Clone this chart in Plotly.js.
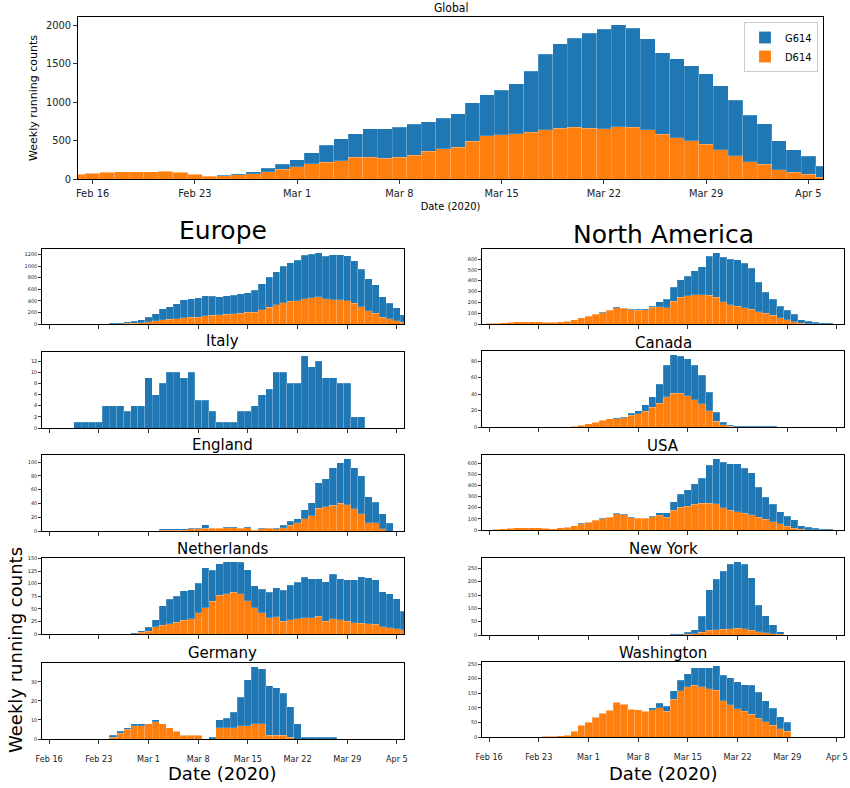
<!DOCTYPE html>
<html><head><meta charset="utf-8">
<script src="https://cdn.plot.ly/plotly-3.0.1.min.js"></script>
<style>html,body{margin:0;padding:0;background:#fff;} #chart{width:850px;height:788px;}</style>
</head><body><div id="chart"></div>
<script>
// ---------- DATA ----------
const startDate = '2020-02-15';
const nDays = 52; // Feb 15 .. Apr 6, one bar per day
const tickDates = ['2020-02-16','2020-02-23','2020-03-01','2020-03-08','2020-03-15','2020-03-22','2020-03-29','2020-04-05'];
const tickLabels = ['Feb 16','Feb 23','Mar 1','Mar 8','Mar 15','Mar 22','Mar 29','Apr 5'];
const seriesNames = ['G614','D614'];

const globalD614 = [65,75,90,92,93,95,100,85,65,38, 45,55,70,95,125,160,200,215,240,280, 280,270,280,310,360,390,410,490,560,575, 590,610,640,660,670,660,652,678,670,643, 583,535,496,452,383,304,226,191,122,87, 65,26];
const globalG614 = [0,0,0,0,0,0,0,0,0,2, 5,15,25,45,65,90,140,225,280,310, 370,385,395,400,385,400,440,500,535,575, 650,790,980,1100,1160,1230,1296,1326,1291,1179, 1060,1030,974,913,826,718,604,526,374,291, 231,139];

const europeD614 = [0,0,0,0,0,0,0,0,0,0, 0,5,10,15,25,40,60,75,85,95, 105,115,120,140,150,160,170,180,190,200, 205,250,290,330,370,390,400,440,455,470, 440,420,420,400,360,300,230,190,120,90, 60,30];
const europeG614 = [0,0,0,0,0,0,0,0,0,5, 15,20,25,35,45,80,120,185,215,255, 315,325,330,350,330,310,320,320,330,340, 375,450,520,570,630,670,700,750,755,765, 730,780,780,780,730,650,550,490,350,270, 220,130];

const italyD614 = [0,0,0,0,0,0,0,0,0,0, 0,0,0,0,0,0,0,0,0,0, 0,0,0,0,0,0,0,0,0,0, 0,0,0,0,0,0,0,0,0,0, 0,0,0,0,0,0,0,0,0,0, 0,0];
const italyG614 = [0,0,0,0,0,1,1,1,1,4, 4,4,3,4,4,9,6,8,10,10, 9,10,5,5,3,1,1,1,3,3, 4,6,7,10,10,8,8,13,11,12, 9,9,8,8,2,2,0,0,0,0, 0,0];

const englandD614 = [0,0,0,0,0,0,0,0,0,0, 0,0,0,0,0,0,0,1,1,1, 1,3,3,4,4,4,5,5,4,5, 1,3,4,3,5,8,12,18,22,33, 35,37,40,38,32,25,12,12,3,0, 0,0];
const englandG614 = [0,0,0,0,0,0,0,0,0,0, 0,0,0,0,0,0,0,2,2,2, 2,1,1,5,1,1,1,1,1,1, 1,1,1,1,3,6,6,13,19,37, 41,55,59,67,60,55,38,30,22,11, 0,0];

const netherlandsD614 = [0,0,0,0,0,0,0,0,0,0, 0,0,0,1,3,5,14,17,20,23, 27,30,42,52,65,77,80,83,80,66, 52,42,32,34,25,28,30,32,32,35, 25,30,28,25,22,21,20,19,14,12, 10,8];
const netherlandsG614 = [0,0,0,0,0,0,0,0,0,0, 0,0,0,1,3,8,14,39,49,52, 59,58,59,80,62,63,64,61,63,62, 44,47,51,58,62,69,73,81,78,75, 79,89,82,83,86,93,92,89,70,68, 60,37];

const germanyD614 = [0,0,0,0,0,0,0,0,0,0, 1,3,5,7,7,8,9,8,6,4, 2,2,2,0,0,6,6,6,7,7, 8,8,2,2,2,1,0,0,0,0, 0,0,0,0,0,0,0,0,0,0, 0,0];
const germanyG614 = [0,0,0,0,0,0,0,0,0,0, 1,1,1,1,1,0,1,0,0,0, 0,0,0,0,1,4,5,8,15,24, 30,29,26,25,22,16,8,1,1,1, 1,1,0,0,0,0,0,0,0,0, 0,0];

const northAmericaD614 = [3,5,8,12,15,20,22,22,20,15, 15,20,25,40,58,72,90,105,125,150, 145,130,128,130,155,160,150,210,245,260, 270,270,265,245,205,180,165,150,135,115, 100,80,60,40,20,8,3,1,0,0, 0,0];
const northAmericaG614 = [0,0,0,0,0,0,0,0,0,0, 0,0,0,0,2,3,5,5,5,10, 5,5,7,10,10,45,80,130,165,180, 220,260,360,415,410,420,430,410,380,270, 195,150,105,85,70,32,22,14,8,5, 3,2];

const canadaD614 = [0,0,0,0,0,0,0,0,0,0, 0,0,0,1,2,4,6,8,10,10, 11,14,16,19,24,29,37,41,41,38, 33,28,20,7,3,1,0,0,0,0, 0,0,0,0,0,0,0,0,0,0, 0,0];
const canadaG614 = [0,0,0,0,0,0,0,0,0,0, 0,0,0,0,0,0,0,0,0,1, 1,3,4,8,13,23,38,47,45,45, 42,35,22,11,3,1,1,1,1,1, 1,1,0,0,0,0,0,0,0,0, 0,0];

const usaD614 = [2,4,8,10,15,20,22,22,20,15, 12,18,25,40,58,70,86,100,115,145, 135,110,105,105,120,130,115,175,205,215, 230,240,240,235,200,175,165,150,135,115, 95,75,55,35,15,6,3,1,0,0, 0,0];
const usaG614 = [0,0,0,0,0,0,0,0,0,0, 0,0,0,0,2,2,4,5,5,5, 5,5,5,5,5,25,40,80,115,145, 185,225,340,405,405,420,430,405,380,270, 200,155,110,90,75,34,22,14,8,5, 3,2];

const newYorkD614 = [0,0,0,0,0,0,0,0,0,0, 0,0,0,0,0,0,0,0,0,0, 0,0,0,0,0,0,0,0,1,2, 5,10,17,20,22,24,25,24,17,12, 8,4,2,0,0,0,0,0,0,0, 0,0];
const newYorkG614 = [0,0,0,0,0,0,0,0,0,0, 0,0,0,0,0,0,0,0,0,0, 0,0,0,0,0,0,1,3,4,8, 15,60,153,190,218,241,250,241,198,100, 64,34,10,0,0,0,0,0,0,0, 0,0];

const washingtonD614 = [0,0,0,0,0,0,0,1,1,2, 3,4,6,20,40,50,68,82,92,120, 113,95,94,88,93,100,88,130,158,172, 178,172,165,160,125,110,97,88,78,65, 52,40,28,20,0,0,0,0,0,0, 0,0];
const washingtonG614 = [0,0,0,0,0,0,0,0,0,0, 0,0,0,0,0,0,0,0,0,0, 0,0,0,0,7,16,17,28,37,45, 59,65,72,85,87,93,93,92,100,88, 72,58,42,30,0,0,0,0,0,0, 0,0];

// ---------- LAYOUT CONFIG ----------
const W = 850, H = 788;
const BLUE = '#1f77b4', ORANGE = '#ff7f0e';
const COND = '"DejaVu Sans Condensed", "Liberation Sans Narrow", "DejaVu Sans", sans-serif';
const DV = '"DejaVu Sans", sans-serif';

const dates = [];
(function(){ const t0 = Date.parse(startDate + 'T00:00:00Z');
  for (let i = 0; i < nDays; i++) dates.push(new Date(t0 + i*86400000).toISOString().slice(0,10)); })();

const panels = [
  {title:'Global', d:globalD614, g:globalG614, box:[78,823,17,179], dtick:500, main:true},
  {title:'Italy', d:italyD614, g:italyG614, box:[42,404,352,428], dtick:2, ty:341},
  {title:'England', d:englandD614, g:englandG614, box:[42,404,455,531], dtick:20, ty:445},
  {title:'Netherlands', d:netherlandsD614, g:netherlandsG614, box:[42,404,558,634], dtick:25, ty:549},
  {title:'Germany', d:germanyD614, g:germanyG614, box:[42,404,663,739], dtick:10, ty:653, bottom:true},
  {title:'Europe', d:europeD614, g:europeG614, box:[42,404,249,324], dtick:200, ty:231, big:true},
  {title:'North America', d:northAmericaD614, g:northAmericaG614, box:[482,844,249,324], dtick:100, ty:234, big:true},
  {title:'Canada', d:canadaD614, g:canadaG614, box:[482,844,351,427], dtick:20, ty:343},
  {title:'USA', d:usaD614, g:usaG614, box:[482,844,455,530], dtick:100, ty:446},
  {title:'New York', d:newYorkD614, g:newYorkG614, box:[482,844,558,635], dtick:50, ty:549},
  {title:'Washington', d:washingtonD614, g:washingtonG614, box:[482,844,662,737], dtick:50, ty:653, bottom:true}
];

const traces = [];
const layout = {
  width: W, height: H, margin:{l:0,r:0,t:0,b:0}, paper_bgcolor:'#fff', plot_bgcolor:'#fff',
  barmode:'stack', bargap:0, showlegend:true,
  font:{family:DV, color:'#000'},
  legend:{x:818/W, y:1-22/H, xanchor:'right', yanchor:'top', traceorder:'reversed',
          bgcolor:'rgba(255,255,255,0.9)', bordercolor:'#cccccc', borderwidth:1,
          font:{family:COND, size:11, color:'#000'}, itemwidth:30, tracegroupgap:0},
  annotations:[]
};

panels.forEach((p, i) => {
  const n = i === 0 ? '' : String(i+1);
  const xa = 'x' + n, ya = 'y' + n;
  const totals = p.d.map((v,k) => v + p.g[k]);
  const ymax = Math.max(...totals) * 1.05;
  const lineStyle = {color:'rgba(255,255,255,0.35)', width:0.5};
  traces.push({type:'bar', x:dates, y:p.d, width:86400000, name:seriesNames[1],
    marker:{color:ORANGE, line:lineStyle}, xaxis:xa, yaxis:ya, showlegend:!!p.main, legendgroup:'d'});
  traces.push({type:'bar', x:dates, y:p.g, width:86400000, name:seriesNames[0],
    marker:{color:BLUE, line:lineStyle}, xaxis:xa, yaxis:ya, showlegend:!!p.main, legendgroup:'g'});
  const [x0,x1,y0,y1] = p.box;
  const xkey = 'xaxis' + n, ykey = 'yaxis' + n;
  const small = !p.main;
  layout[xkey] = {
    type:'date', domain:[x0/W, x1/W], anchor:ya, range:['2020-02-15','2020-04-06'],
    tickmode:'array', tickvals:tickDates, ticktext:tickLabels,
    showgrid:false, zeroline:false, showline:true, mirror:true, linecolor:'#000', linewidth:1.2,
    ticks:'outside', ticklen:3.5, tickwidth:0.8, tickcolor:'#000',
    showticklabels: p.main || !!p.bottom,
    tickfont:{family:COND, size: p.main ? 11 : 9, color:'#222'},
    ticklabelstandoff: p.bottom ? 7 : 0
  };
  if (p.main) layout[xkey].title = {text:'Date (2020)', font:{family:COND, size:11, color:'#000'}, standoff:3};
  layout[ykey] = {
    domain:[1-y1/H, 1-y0/H], anchor:xa, range:[0, ymax], dtick:p.dtick, tick0:0,
    showgrid:false, zeroline:false, showline:true, mirror:true, linecolor:'#000', linewidth:1.2,
    ticks:'outside', ticklen: small ? 2.5 : 3.5, tickwidth:0.8, tickcolor:'#000',
    tickfont:{family: small ? DV : COND, size: small ? 5 : 11, color:'#222'}
  };
  if (p.main) {
    layout[ykey].title = {text:'Weekly running counts', font:{family:DV, size:11, color:'#000'}, standoff:6};
    layout.annotations.push({text:'Global', xref:'paper', yref:'paper', x:(x0+x1)/2/W, y:1-8/H,
      xanchor:'center', yanchor:'middle', showarrow:false, font:{family:COND, size:12, color:'#000'}});
  } else {
    layout.annotations.push({text:p.title, xref:'paper', yref:'paper', x:(x0+x1)/2/W, y:1-p.ty/H,
      xanchor:'center', yanchor:'middle', showarrow:false,
      font:{family:DV, size: p.big ? 25 : 15, color:'#000'}});
  }
});

// shared big labels
layout.annotations.push({text:'Weekly running counts', xref:'paper', yref:'paper', x:15/W, y:1-650/H,
  xanchor:'center', yanchor:'middle', textangle:-90, showarrow:false, font:{family:DV, size:18, color:'#000'}});
layout.annotations.push({text:'Date (2020)', xref:'paper', yref:'paper', x:223/W, y:1-773/H,
  xanchor:'center', yanchor:'middle', showarrow:false, font:{family:DV, size:18, color:'#000'}});
layout.annotations.push({text:'Date (2020)', xref:'paper', yref:'paper', x:663/W, y:1-773/H,
  xanchor:'center', yanchor:'middle', showarrow:false, font:{family:DV, size:18, color:'#000'}});

Plotly.newPlot('chart', traces, layout, {staticPlot:true, displayModeBar:false});
</script></body></html>
